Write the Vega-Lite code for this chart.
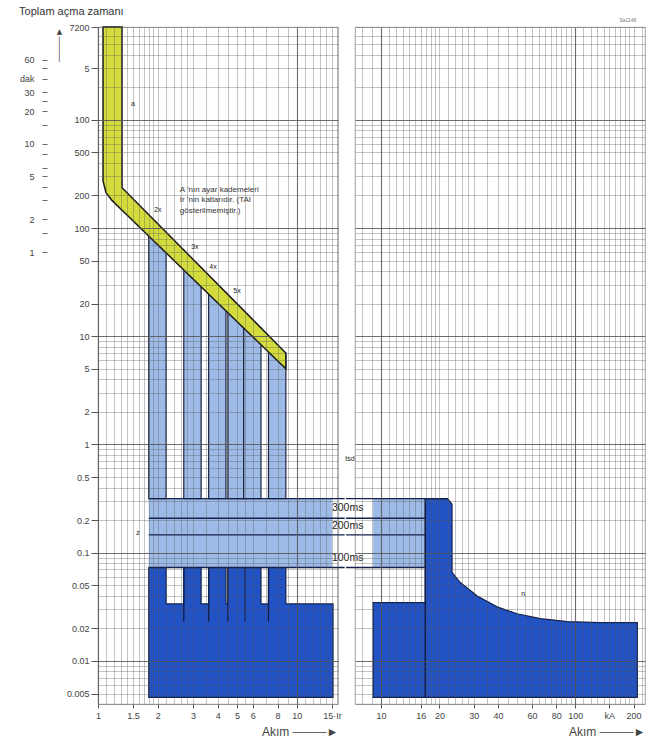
{
  "$schema": "https://vega.github.io/schema/vega-lite/v6.json",
  "background": "white",
  "padding": {"left": 19, "top": 5, "right": 5, "bottom": 5},
  "title": {"text": "Toplam açma zamanı", "anchor": "start", "fontSize": 11, "fontWeight": "normal", "color": "#333", "offset": 1, "font": "Liberation Sans"},
  "datasets": {
    "bandL": [{"x1": 1.8, "x2": 15.0, "y1": 0.073, "y2": 0.316}],
    "channels": [
      {"k": "2x", "x1": 1.8, "x2": 2.2, "y1": 0.316, "y2": 91.6},
      {"k": "3x", "x1": 2.7, "x2": 3.3, "y1": 0.316, "y2": 43.2},
      {"k": "4x", "x1": 3.6, "x2": 4.4, "y1": 0.316, "y2": 25.4},
      {"k": "5x", "x1": 4.5, "x2": 5.5, "y1": 0.316, "y2": 16.8},
      {"k": "6x", "x1": 5.4, "x2": 6.6, "y1": 0.316, "y2": 12.0},
      {"k": "8x", "x1": 7.2, "x2": 8.8, "y1": 0.316, "y2": 7.0}
    ],
    "darkL": [
      {"x": 1.8, "t": 0.073, "b": 0.0046},
      {"x": 2.2, "t": 0.073, "b": 0.0046},
      {"x": 2.201, "t": 0.0336, "b": 0.0046},
      {"x": 2.7, "t": 0.0336, "b": 0.0046},
      {"x": 2.701, "t": 0.073, "b": 0.0046},
      {"x": 3.3, "t": 0.073, "b": 0.0046},
      {"x": 3.301, "t": 0.0336, "b": 0.0046},
      {"x": 3.6, "t": 0.0336, "b": 0.0046},
      {"x": 3.601, "t": 0.073, "b": 0.0046},
      {"x": 4.4, "t": 0.073, "b": 0.0046},
      {"x": 4.401, "t": 0.0336, "b": 0.0046},
      {"x": 4.5, "t": 0.0336, "b": 0.0046},
      {"x": 4.501, "t": 0.073, "b": 0.0046},
      {"x": 6.6, "t": 0.073, "b": 0.0046},
      {"x": 6.601, "t": 0.0336, "b": 0.0046},
      {"x": 7.2, "t": 0.0336, "b": 0.0046},
      {"x": 7.201, "t": 0.073, "b": 0.0046},
      {"x": 8.8, "t": 0.073, "b": 0.0046},
      {"x": 8.801, "t": 0.0336, "b": 0.0046},
      {"x": 15.2, "t": 0.0336, "b": 0.0046}
    ],
    "longTime": [
      {"x": 1.06, "t": 7200, "b": 273},
      {"x": 1.097, "t": 7200, "b": 212},
      {"x": 1.176, "t": 7200, "b": 180},
      {"x": 1.32, "t": 7200, "b": 146},
      {"x": 1.321, "t": 236, "b": 146},
      {"x": 8.8, "t": 7.0, "b": 5.0}
    ],
    "linesL": [
      {"y": 0.316, "x1": 1.8, "x2": 17.4},
      {"y": 0.208, "x1": 1.8, "x2": 17.4},
      {"y": 0.146, "x1": 1.8, "x2": 17.4},
      {"y": 0.073, "x1": 1.8, "x2": 17.4}
    ],
    "instL": [
      {"x": 2.7, "y1": 0.073, "y2": 0.023},
      {"x": 3.6, "y1": 0.073, "y2": 0.023},
      {"x": 4.5, "y1": 0.073, "y2": 0.023},
      {"x": 5.5, "y1": 0.073, "y2": 0.023},
      {"x": 7.2, "y1": 0.073, "y2": 0.023}
    ],
    "marksL": [
      {"x": 1.5, "y": 1397, "t": "a"},
      {"x": 2.0, "y": 146, "t": "2x"},
      {"x": 3.07, "y": 67.2, "t": "3x"},
      {"x": 3.79, "y": 43.3, "t": "4x"},
      {"x": 5.0, "y": 26.2, "t": "5x"},
      {"x": 1.59, "y": 0.152, "t": "z"}
    ],
    "bandText": [
      {"x": 15.0, "y": 0.257, "t": "300ms"},
      {"x": 15.0, "y": 0.176, "t": "200ms"},
      {"x": 15.0, "y": 0.09, "t": "100ms"}
    ],
    "note": [{"x": 2.58, "y": 246, "t": "A 'nın ayar kademeleri\nIr 'nin katlarıdır. (TAI\ngösterilmemiştir.)"}],
    "bandR": [{"x1": 9.1, "x2": 16.9, "y1": 0.073, "y2": 0.316}],
    "darkR": [
      {"x": 9.1, "t": 0.0346, "b": 0.0046},
      {"x": 16.9, "t": 0.0346, "b": 0.0046},
      {"x": 16.91, "t": 0.316, "b": 0.0046},
      {"x": 22.0, "t": 0.316, "b": 0.0046},
      {"x": 23.2, "t": 0.28, "b": 0.0046},
      {"x": 23.21, "t": 0.0658, "b": 0.0046},
      {"x": 25.5, "t": 0.0533, "b": 0.0046},
      {"x": 31.3, "t": 0.0398, "b": 0.0046},
      {"x": 39.6, "t": 0.0316, "b": 0.0046},
      {"x": 50.2, "t": 0.0273, "b": 0.0046},
      {"x": 66.1, "t": 0.0246, "b": 0.0046},
      {"x": 91.0, "t": 0.0231, "b": 0.0046},
      {"x": 134.6, "t": 0.0226, "b": 0.0046},
      {"x": 209, "t": 0.0226, "b": 0.0046}
    ],
    "linesR": [
      {"y": 0.316, "x1": 6.6, "x2": 22.0},
      {"y": 0.208, "x1": 6.6, "x2": 16.9},
      {"y": 0.146, "x1": 6.6, "x2": 16.9},
      {"y": 0.073, "x1": 6.6, "x2": 16.9}
    ],
    "instR": [{"x": 16.9, "y1": 0.316, "y2": 0.0046}],
    "marksR": [
      {"x": 54, "y": 0.0412, "t": "n"},
      {"x": 6.92, "y": 0.731, "t": "tsd"}
    ],
    "tagR": [{"x": 187, "y": 7200, "t": "Sa1146"}]
  },
  "spacing": 17,
  "bounds": "flush",
  "hconcat": [
    {
      "width": 240,
      "height": 677,
      "resolve": {"axis": {"y": "independent"}},
      "layer": [
        {
          "data": {"name": "bandL"},
          "mark": {"type": "rect", "color": "#9dbbe6"},
          "encoding": {
            "x": {"field": "x1", "type": "quantitative", "scale": {"type": "log", "domain": [1, 16.1], "nice": false},
              "axis": {
                "values": [1, 1.1, 1.2, 1.3, 1.4, 1.5, 1.6, 1.7, 1.8, 1.9, 2, 2.2, 2.4, 2.6, 2.8, 3, 3.5, 4, 4.5, 5, 5.5, 6, 7, 8, 9, 10, 11, 12, 13, 14, 15, 16],
                "format": "~g",
                "labelExpr": "datum.value==15?'15·Ir':indexof([1,1.5,2,3,4,5,6,8,10],datum.value)>=0?datum.label:''",
                "tickOpacity": {"condition": {"test": "indexof([1,1.5,2,3,4,5,6,8,10,15],datum.value)>=0", "value": 1}, "value": 0},
                "tickSize": 4,
                "grid": true,
                "gridColor": "#555",
                "gridOpacity": {"condition": {"test": "abs(log(datum.value)/LN10-round(log(datum.value)/LN10))<0.0001", "value": 0.85}, "value": 0.5},
                "gridWidth": {"condition": {"test": "abs(log(datum.value)/LN10-round(log(datum.value)/LN10))<0.0001", "value": 1.1}, "value": 0.7},
                "zindex": 1,
                "title": "Akım ────►",
                "titleAnchor": "end",
                "titleFontSize": 12,
                "titlePadding": 6,
                "labelPadding": 3
              }},
            "x2": {"field": "x2"},
            "y": {"field": "y1", "type": "quantitative", "scale": {"type": "log", "domain": [0.004, 7200], "nice": false},
              "axis": {
                "values": [0.004, 0.005, 0.006, 0.007, 0.008, 0.009, 0.01, 0.02, 0.03, 0.04, 0.05, 0.06, 0.07, 0.08, 0.09, 0.1, 0.2, 0.3, 0.4, 0.5, 0.6, 0.7, 0.8, 0.9, 1, 2, 3, 4, 5, 6, 7, 8, 9, 10, 20, 30, 40, 50, 60, 70, 80, 90, 100, 200, 300, 400, 500, 600, 700, 800, 900, 1000, 2000, 3000, 4000, 5000, 6000, 7200],
                "format": "~g",
                "labelExpr": "datum.value==3000?'5':datum.value==1000?'100':indexof([7200,500,200,100,50,20,10,5,2,1,0.5,0.2,0.1,0.05,0.02,0.01,0.005],datum.value)>=0?datum.label:''",
                "tickOpacity": {"condition": {"test": "indexof([7200,3000,1000,500,200,100,50,20,10,5,2,1,0.5,0.2,0.1,0.05,0.02,0.01,0.005],datum.value)>=0", "value": 1}, "value": 0},
                "tickSize": 7,
                "grid": true,
                "gridColor": "#555",
                "gridOpacity": {"condition": {"test": "abs(log(datum.value)/LN10-round(log(datum.value)/LN10))<0.0001", "value": 0.85}, "value": 0.5},
                "gridWidth": {"condition": {"test": "abs(log(datum.value)/LN10-round(log(datum.value)/LN10))<0.0001", "value": 1.1}, "value": 0.7},
                "zindex": 1,
                "title": "────►",
                "titleAnchor": "end",
                "titleFontSize": 9,
                "titlePadding": 3,
                "labelPadding": 2
              }},
            "y2": {"field": "y2"}
          }
        },
        {
          "data": {"name": "channels"},
          "mark": {"type": "rect", "color": "#9dbbe6", "stroke": "#1a2240", "strokeWidth": 1.2},
          "encoding": {
            "x": {"field": "x1", "type": "quantitative"},
            "x2": {"field": "x2"},
            "y": {"field": "y1", "type": "quantitative", "axis": null},
            "y2": {"field": "y2"}
          }
        },
        {
          "data": {"name": "darkL"},
          "mark": {"type": "area", "orient": "vertical", "color": "#2152c6", "stroke": "#14224a", "strokeWidth": 1.2},
          "encoding": {
            "x": {"field": "x", "type": "quantitative"},
            "y": {"field": "t", "type": "quantitative", "stack": null, "axis": null},
            "y2": {"field": "b"}
          }
        },
        {
          "data": {"name": "longTime"},
          "mark": {"type": "area", "orient": "vertical", "color": "#d3dc3c", "stroke": "#1a1a1a", "strokeWidth": 1.5},
          "encoding": {
            "x": {"field": "x", "type": "quantitative"},
            "y": {"field": "t", "type": "quantitative", "stack": null, "axis": null},
            "y2": {"field": "b"}
          }
        },
        {
          "data": {"name": "linesL"},
          "mark": {"type": "rule", "color": "#15204a", "strokeWidth": 1.4},
          "encoding": {
            "x": {"field": "x1", "type": "quantitative"},
            "x2": {"field": "x2"},
            "y": {"field": "y", "type": "quantitative", "axis": null}
          }
        },
        {
          "data": {"name": "instL"},
          "mark": {"type": "rule", "color": "#0f1c4a", "strokeWidth": 1.3},
          "encoding": {
            "x": {"field": "x", "type": "quantitative"},
            "y": {"field": "y1", "type": "quantitative", "axis": null},
            "y2": {"field": "y2"}
          }
        },
        {
          "data": {"name": "marksL"},
          "mark": {"type": "text", "fontSize": 7, "color": "#222", "align": "center", "baseline": "middle"},
          "encoding": {
            "x": {"field": "x", "type": "quantitative"},
            "y": {"field": "y", "type": "quantitative",
              "axis": {
                "orient": "left",
                "offset": 51,
                "values": [3600, 3000, 2400, 1800, 1500, 1200, 900, 600, 480, 360, 300, 240, 180, 120, 90, 60],
                "labelExpr": "datum.value==2400?'dak':indexof([3600,1800,1200,600,300,120,60],datum.value)>=0?''+(datum.value/60):''",
                "tickSize": 5,
                "tickColor": "#666",
                "grid": false,
                "domain": false,
                "title": null,
                "labelPadding": 8,
                "labelFontSize": 9
              }},
            "text": {"field": "t"}
          }
        },
        {
          "data": {"name": "bandText"},
          "mark": {"type": "text", "fontSize": 10.5, "color": "#222", "align": "left", "baseline": "middle"},
          "encoding": {
            "x": {"field": "x", "type": "quantitative"},
            "y": {"field": "y", "type": "quantitative", "axis": null},
            "text": {"field": "t"}
          }
        },
        {
          "data": {"name": "note"},
          "mark": {"type": "text", "fontSize": 8, "color": "#333", "align": "left", "baseline": "top", "lineBreak": "\n", "lineHeight": 10.5},
          "encoding": {
            "x": {"field": "x", "type": "quantitative"},
            "y": {"field": "y", "type": "quantitative", "axis": null},
            "text": {"field": "t"}
          }
        }
      ]
    },
    {
      "width": 290,
      "height": 677,
      "layer": [
        {
          "data": {"name": "bandR"},
          "mark": {"type": "rect", "color": "#9dbbe6"},
          "encoding": {
            "x": {"field": "x1", "type": "quantitative", "scale": {"type": "log", "domain": [7.34, 229], "nice": false},
              "axis": {
                "values": [8, 9, 10, 11, 12, 13, 14, 15, 16, 17, 18, 19, 20, 22, 24, 26, 28, 30, 35, 40, 45, 50, 55, 60, 65, 70, 75, 80, 85, 90, 95, 100, 110, 120, 130, 140, 150, 160, 170, 180, 190, 200, 220],
                "format": "~g",
                "labelExpr": "datum.value==150?'kA':indexof([10,16,20,30,40,60,80,100,200],datum.value)>=0?datum.label:''",
                "tickOpacity": {"condition": {"test": "indexof([10,16,20,30,40,60,80,100,150,200],datum.value)>=0", "value": 1}, "value": 0},
                "tickSize": 4,
                "grid": true,
                "gridColor": "#555",
                "gridOpacity": {"condition": {"test": "abs(log(datum.value)/LN10-round(log(datum.value)/LN10))<0.0001", "value": 0.85}, "value": 0.5},
                "gridWidth": {"condition": {"test": "abs(log(datum.value)/LN10-round(log(datum.value)/LN10))<0.0001", "value": 1.1}, "value": 0.7},
                "zindex": 1,
                "title": "Akım ────►",
                "titleAnchor": "end",
                "titleFontSize": 12,
                "titlePadding": 6,
                "labelPadding": 3
              }},
            "x2": {"field": "x2"},
            "y": {"field": "y1", "type": "quantitative", "scale": {"type": "log", "domain": [0.004, 7200], "nice": false},
              "axis": {
                "values": [0.004, 0.005, 0.006, 0.007, 0.008, 0.009, 0.01, 0.02, 0.03, 0.04, 0.05, 0.06, 0.07, 0.08, 0.09, 0.1, 0.2, 0.3, 0.4, 0.5, 0.6, 0.7, 0.8, 0.9, 1, 2, 3, 4, 5, 6, 7, 8, 9, 10, 20, 30, 40, 50, 60, 70, 80, 90, 100, 200, 300, 400, 500, 600, 700, 800, 900, 1000, 2000, 3000, 4000, 5000, 6000, 7200],
                "labels": false,
                "ticks": false,
                "domain": false,
                "grid": true,
                "gridColor": "#555",
                "gridOpacity": {"condition": {"test": "abs(log(datum.value)/LN10-round(log(datum.value)/LN10))<0.0001", "value": 0.85}, "value": 0.5},
                "gridWidth": {"condition": {"test": "abs(log(datum.value)/LN10-round(log(datum.value)/LN10))<0.0001", "value": 1.1}, "value": 0.7},
                "zindex": 1,
                "title": null
              }},
            "y2": {"field": "y2"}
          }
        },
        {
          "data": {"name": "darkR"},
          "mark": {"type": "area", "orient": "vertical", "color": "#2152c6", "stroke": "#14224a", "strokeWidth": 1.2},
          "encoding": {
            "x": {"field": "x", "type": "quantitative"},
            "y": {"field": "t", "type": "quantitative", "stack": null},
            "y2": {"field": "b"}
          }
        },
        {
          "data": {"name": "linesR"},
          "mark": {"type": "rule", "color": "#15204a", "strokeWidth": 1.4},
          "encoding": {
            "x": {"field": "x1", "type": "quantitative"},
            "x2": {"field": "x2"},
            "y": {"field": "y", "type": "quantitative"}
          }
        },
        {
          "data": {"name": "instR"},
          "mark": {"type": "rule", "color": "#0f1c4a", "strokeWidth": 1.5},
          "encoding": {
            "x": {"field": "x", "type": "quantitative"},
            "y": {"field": "y1", "type": "quantitative"},
            "y2": {"field": "y2"}
          }
        },
        {
          "data": {"name": "marksR"},
          "mark": {"type": "text", "fontSize": 7, "color": "#222", "align": "center", "baseline": "middle"},
          "encoding": {
            "x": {"field": "x", "type": "quantitative"},
            "y": {"field": "y", "type": "quantitative"},
            "text": {"field": "t"}
          }
        },
        {
          "data": {"name": "tagR"},
          "mark": {"type": "text", "fontSize": 5, "color": "#777", "align": "center", "baseline": "bottom", "dy": -4},
          "encoding": {
            "x": {"field": "x", "type": "quantitative"},
            "y": {"field": "y", "type": "quantitative"},
            "text": {"field": "t"}
          }
        }
      ]
    }
  ],
  "config": {
    "view": {"stroke": "#8a8a8a", "strokeWidth": 0.8},
    "font": "Liberation Sans",
    "text": {"font": "Liberation Sans"},
    "axis": {
      "labelFont": "Liberation Sans",
      "titleFont": "Liberation Sans",
      "labelColor": "#444",
      "labelFontSize": 9,
      "titleColor": "#444",
      "titleFontWeight": "normal",
      "tickColor": "#555",
      "domain": false,
      "labelOverlap": false,
      "labelFlush": false
    }
  }
}
